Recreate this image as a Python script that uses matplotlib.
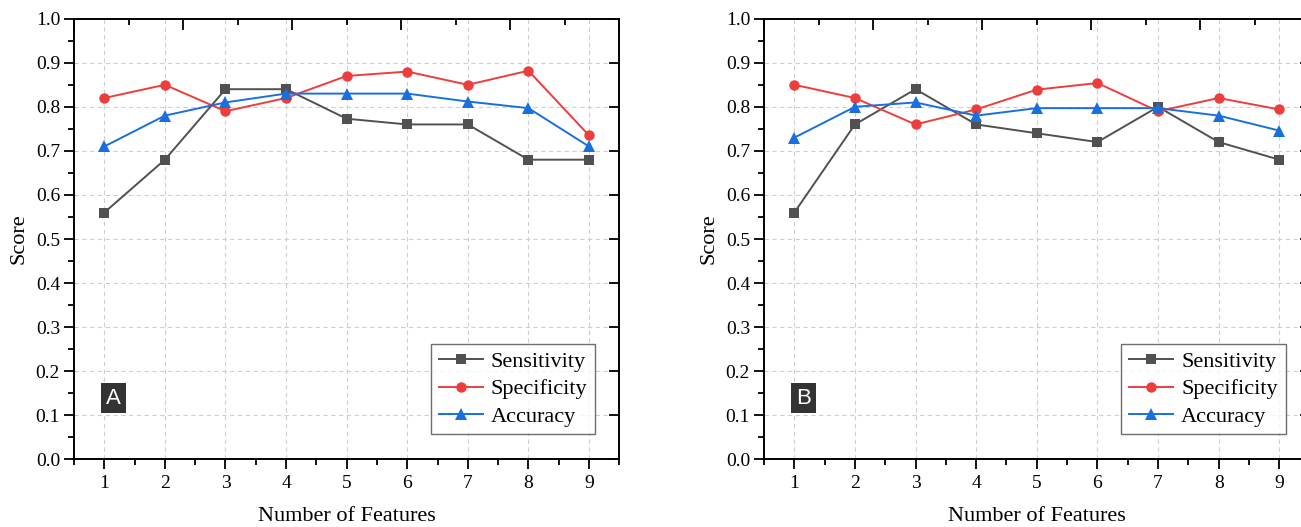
import matplotlib
matplotlib.use("Agg")
import matplotlib.pyplot as plt
from matplotlib.ticker import MultipleLocator

# ---- data ----
features = [1, 2, 3, 4, 5, 6, 7, 8, 9]
series_names = ["Sensitivity", "Specificity", "Accuracy"]

sens_a = [0.56, 0.68, 0.84, 0.84, 0.773, 0.76, 0.76, 0.68, 0.68]
spec_a = [0.82, 0.85, 0.79, 0.82, 0.87, 0.88, 0.85, 0.882, 0.735]
acc_a = [0.71, 0.78, 0.81, 0.83, 0.83, 0.83, 0.812, 0.797, 0.71]

sens_b = [0.56, 0.76, 0.84, 0.76, 0.74, 0.72, 0.80, 0.72, 0.68]
spec_b = [0.85, 0.82, 0.76, 0.794, 0.839, 0.854, 0.79, 0.82, 0.794]
acc_b = [0.73, 0.80, 0.81, 0.78, 0.797, 0.797, 0.797, 0.78, 0.746]

panel_labels = ["A", "B"]
yticks = [0.0, 0.1, 0.2, 0.3, 0.4, 0.5, 0.6, 0.7, 0.8, 0.9, 1.0]

colors = ["#515151", "#EE3D3D", "#1A6FDF"]
markers = ["s", "o", "^"]
msizes = [7, 7.5, 9]

plt.rcParams['font.family'] = ['Liberation Serif', 'DejaVu Serif']

W, H = 1301, 527
fig = plt.figure(figsize=(W / 100, H / 100), dpi=100)

axes_px = [(74, 18.7, 619.3, 459.3), (764, 18.7, 1309.6, 459.3)]
data_sets = [(sens_a, spec_a, acc_a), (sens_b, spec_b, acc_b)]

for (x0, y0, x1, y1), dsets, plabel in zip(axes_px, data_sets, panel_labels):
    ax = fig.add_axes([x0 / W, 1 - y1 / H, (x1 - x0) / W, (y1 - y0) / H])
    ax.set_xlim(0.5, 9.5)
    ax.set_ylim(0.0, 1.0)

    for ys, name, c, m, ms in zip(dsets, series_names, colors, markers, msizes):
        ax.plot(features, ys, color=c, marker=m, markersize=ms, lw=1.4,
                markeredgewidth=0, label=name, zorder=3)

    ax.set_xticks(features)
    ax.set_xticklabels([str(f) for f in features])
    ax.xaxis.set_minor_locator(MultipleLocator(0.5))
    ax.set_yticks(yticks)
    ax.set_yticklabels([f"{v:.1f}" for v in yticks])
    ax.yaxis.set_minor_locator(MultipleLocator(0.05))

    ax.tick_params(axis='both', which='major', direction='out', length=7,
                   width=1.3, labelsize=14, top=False, right=False)
    ax.tick_params(axis='both', which='minor', direction='out', length=4,
                   width=1.3, top=False, right=False)
    ax.tick_params(axis='y', which='major', pad=3)
    ax.tick_params(axis='x', which='major', pad=4)

    for s in ax.spines.values():
        s.set_linewidth(1.4)
        s.set_color('black')

    # grid
    for f in features:
        ax.axvline(f, color='#cfcfcf', lw=0.8, ls=(0, (4, 3)), zorder=1)
    for v in yticks[1:-1]:
        ax.axhline(v, color='#cfcfcf', lw=0.8, ls=(0, (4, 3)), zorder=1)

    # top mirror axis with its own tick spacing
    axt = ax.twiny()
    axt.set_xlim(0, 10)
    axt.set_xticks([0, 2, 4, 6, 8, 10])
    axt.xaxis.set_minor_locator(MultipleLocator(1))
    axt.tick_params(axis='x', which='major', direction='in', length=8, width=1.3,
                    labeltop=False, top=True, bottom=False)
    axt.tick_params(axis='x', which='minor', direction='in', length=4, width=1.3,
                    top=True, bottom=False)

    # right mirror axis
    axr = ax.twinx()
    axr.set_ylim(0, 1)
    axr.set_yticks(yticks)
    axr.tick_params(axis='y', which='major', direction='in', length=7, width=1.3,
                    labelright=False, right=True, left=False)
    for a in (axt, axr):
        for s in a.spines.values():
            s.set_visible(False)

    ax.set_ylabel("Score", fontsize=16, va='center')
    ax.yaxis.set_label_coords(-0.1009, 0.5)
    ax.set_xlabel("Number of Features", fontsize=16, va='center')
    ax.xaxis.set_label_coords(0.5, -0.130)

    leg = ax.legend(loc='lower right', bbox_to_anchor=(1 - 24 / 545.3, 25 / 440.6),
                    fontsize=16, frameon=True, fancybox=False, borderaxespad=0,
                    handlelength=2.0, handletextpad=0.35, labelspacing=0.3,
                    borderpad=0.35)
    leg.get_frame().set_edgecolor('#4a4a4a')
    leg.get_frame().set_linewidth(1.0)
    leg.set_zorder(5)

    ax.text(1.15, 0.139, plabel, fontsize=16, color='white',
            family=['Liberation Sans', 'DejaVu Sans'],
            ha='center', va='center', zorder=6,
            bbox=dict(boxstyle='square,pad=0.22', facecolor='#333333',
                      edgecolor='none'))

fig.savefig("out.png", dpi=100)
